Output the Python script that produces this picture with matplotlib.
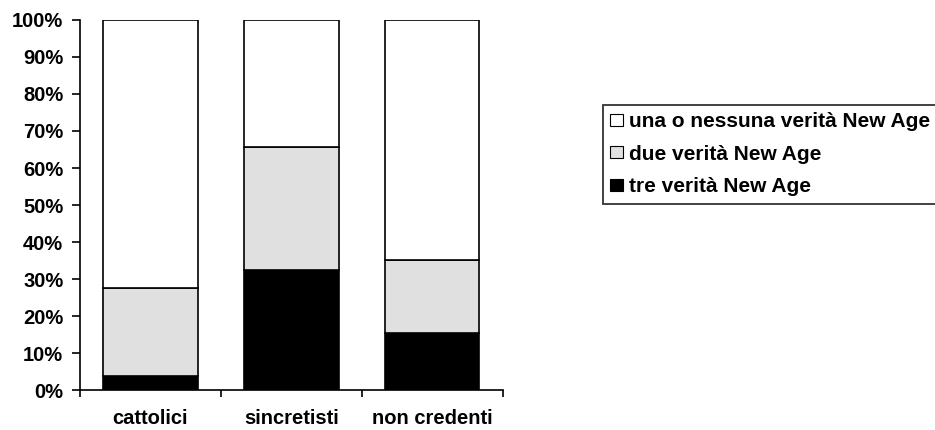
import matplotlib
matplotlib.use("Agg")
import matplotlib.pyplot as plt
import matplotlib.patches as mpatches
from matplotlib.ticker import FixedLocator, PercentFormatter

plt.rcParams['font.family'] = ['Liberation Sans', 'DejaVu Sans']
plt.rcParams['font.weight'] = 'bold'

# dati (percentuali)
categorie = ['cattolici', 'sincretisti', 'non credenti']
tre = [3.8, 32.4, 15.3]
due = [23.8, 33.4, 19.8]
una = [100 - a - b for a, b in zip(tre, due)]
serie = ['una o nessuna verità New Age', 'due verità New Age', 'tre verità New Age']
colori = ['white', '#e0e0e0', 'black']

fig = plt.figure(figsize=(9.35, 4.3), dpi=100)
ax = fig.add_axes([0.0856, 0.093, 0.452, 0.8605])

x = list(range(len(categorie)))
w = 0.67
ax.bar(x, tre, w, color=colori[2], edgecolor='black', linewidth=1.2)
ax.bar(x, due, w, bottom=tre, color=colori[1], edgecolor='black', linewidth=1.2)
bott = [a + b for a, b in zip(tre, due)]
ax.bar(x, una, w, bottom=bott, color=colori[0], edgecolor='black', linewidth=1.2)

ax.set_xlim(-0.5, len(categorie) - 0.5)
ax.set_ylim(0, 100)
ax.set_yticks(range(0, 101, 10))
ax.yaxis.set_major_formatter(PercentFormatter(decimals=0))
ax.set_xticks(x)
ax.set_xticklabels(categorie)
ax.tick_params(axis='x', which='major', length=0, pad=14, labelsize=14.5)
ax.xaxis.set_minor_locator(FixedLocator([i - 0.5 for i in range(len(categorie) + 1)]))
ax.tick_params(axis='x', which='minor', length=5, width=1.2)
ax.tick_params(axis='y', length=5.5, width=1.2, labelsize=14.5, pad=6.5)
for s in ['top', 'right']:
    ax.spines[s].set_visible(False)
for s in ['left', 'bottom']:
    ax.spines[s].set_linewidth(1.2)

handles = [mpatches.Patch(facecolor=c, edgecolor='black', linewidth=0.8) for c in colori]
leg = fig.legend(handles, serie, loc='upper left', bbox_to_anchor=(0.645, 0.756),
                 frameon=True, fancybox=False, edgecolor='black', fontsize=15,
                 handlelength=0.6, handleheight=0.5, handletextpad=0.3,
                 labelspacing=0.65, borderpad=0.35, borderaxespad=0)
leg.get_frame().set_linewidth(1.3)

fig.savefig('out.png', dpi=100)
